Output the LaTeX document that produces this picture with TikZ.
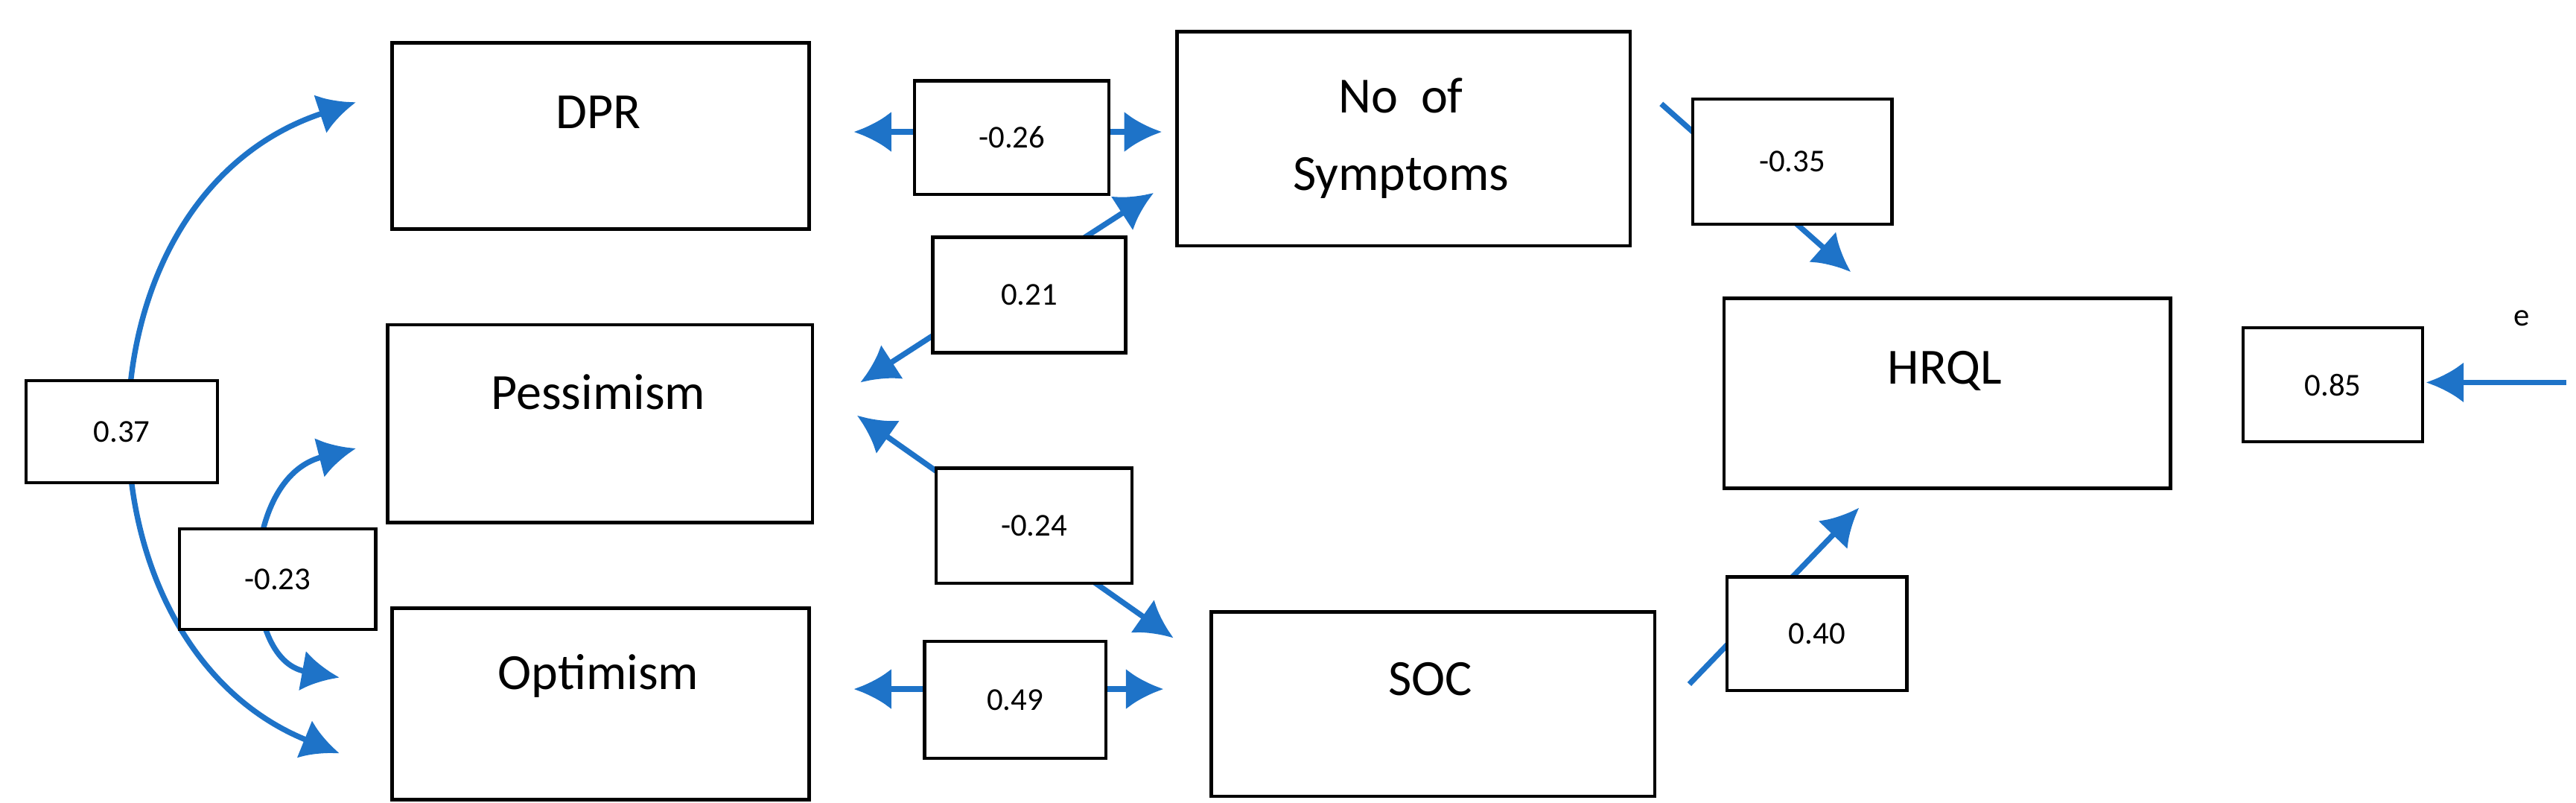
\documentclass[tikz,border=0pt]{standalone}
\usepackage{fontspec}
\setmainfont{Carlito}
\usetikzlibrary{arrows.meta}
\begin{document}
\begin{tikzpicture}[x=0.02cm,y=-0.02cm,
  box/.style={draw=black,line width=1.2pt,anchor=north west,inner sep=0},
  big/.style={font=\fontsize{17.5}{20}\selectfont},
  lab/.style={draw=black,line width=1.1pt,fill=white,anchor=north west,inner sep=0,font=\fontsize{11}{12}\selectfont},
  ar/.style={draw={rgb,255:red,30;green,115;blue,200},line width=1.9pt,-{Latex[length=13pt,width=14pt]}},
  dar/.style={ar,{Latex[length=13pt,width=14pt]}-{Latex[length=13pt,width=14pt]}}]
\useasboundingbox (0,0) rectangle (1563,487);
% boxes
\node[box,minimum width=253*0.02cm,minimum height=113*0.02cm] (dpr) at (237,25) {};
\node[box,minimum width=275*0.02cm,minimum height=130*0.02cm] (nos) at (713,18) {};
\node[box,minimum width=258*0.02cm,minimum height=120*0.02cm] (pes) at (234,196) {};
\node[box,minimum width=253*0.02cm,minimum height=116*0.02cm] (opt) at (237,368) {};
\node[box,minimum width=269*0.02cm,minimum height=112*0.02cm] (soc) at (734,370) {};
\node[box,minimum width=271*0.02cm,minimum height=115*0.02cm] (hrql) at (1045,180) {};
\node[big] (tdpr) at (363,68) {DPR};
\node[big] (tnos1) at (850,58) {No\ \ of};
\node[big] (tnos2) at (850,108) {Symptoms};
\node[big] (tpes) at (363,238) {Pessimism};
\node[big] (topt) at (363,410) {Optimism};
\node[big] (tsoc) at (868,412) {SOC};
\node[big] (thrql) at (1180,225) {HRQL};
\node[font=\fontsize{11}{12}\selectfont] (te) at (1530,193) {e};
% coordinates
\coordinate (a1) at (518,80); \coordinate (a2) at (705,80);
\coordinate (b1) at (700,117); \coordinate (b2) at (522,232);
\coordinate (c1) at (520,252); \coordinate (c2) at (712,387);
\coordinate (d1) at (1008,63); \coordinate (d2) at (1123,165);
\coordinate (e1) at (1025,415); \coordinate (e2) at (1128,308);
\coordinate (f1) at (518,418); \coordinate (f2) at (706,418);
\coordinate (g1) at (1557,232); \coordinate (g2) at (1472,232);
\coordinate (h1) at (216,62); \coordinate (h2) at (206,457);
\coordinate (i1) at (216,272); \coordinate (i2) at (206,411);
% connectors
\draw[dar] (a1) -- (a2);
\draw[dar] (b1) -- (b2);
\draw[dar] (c1) -- (c2);
\draw[ar] (d1) -- (d2);
\draw[ar] (e1) -- (e2);
\draw[dar] (f1) -- (f2);
\draw[ar] (g1) -- (g2);
\draw[dar] (h1) .. controls (40,120) and (40,390) .. (h2);
\draw[dar] (i1) .. controls (145,290) and (145,400) .. (i2);
% labels
\node[lab,minimum width=118*0.02cm,minimum height=69*0.02cm] (l1) at (554,48) {-0.26};
\node[lab,minimum width=121*0.02cm,minimum height=76*0.02cm] (l2) at (1026,59) {-0.35};
\node[lab,minimum width=117*0.02cm,minimum height=70*0.02cm] (l3) at (565,143) {0.21};
\node[lab,minimum width=109*0.02cm,minimum height=69*0.02cm] (l4) at (1360,198) {0.85};
\node[lab,minimum width=116*0.02cm,minimum height=62*0.02cm] (l5) at (15,230) {0.37};
\node[lab,minimum width=119*0.02cm,minimum height=61*0.02cm] (l6) at (108,320) {-0.23};
\node[lab,minimum width=119*0.02cm,minimum height=70*0.02cm] (l7) at (567,283) {-0.24};
\node[lab,minimum width=110*0.02cm,minimum height=71*0.02cm] (l8) at (560,388) {0.49};
\node[lab,minimum width=109*0.02cm,minimum height=69*0.02cm] (l9) at (1047,349) {0.40};
\end{tikzpicture}
\end{document}
